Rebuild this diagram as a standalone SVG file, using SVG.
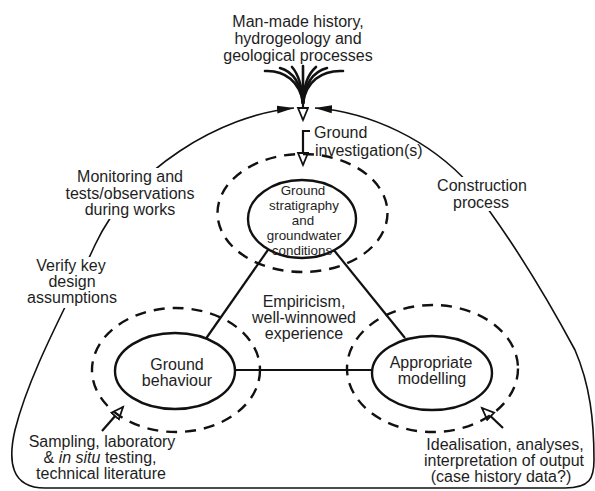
<svg xmlns="http://www.w3.org/2000/svg" width="595" height="491" viewBox="0 0 595 491">
<style>
text{font-family:"Liberation Sans",Arial,sans-serif;font-size:16px;fill:#1e1e1e;text-anchor:middle}
.small{font-size:13.4px}
.ln{fill:none;stroke:#111;stroke-width:2.2}
.outer{fill:none;stroke:#111;stroke-width:1.6}
.dash{fill:none;stroke:#111;stroke-width:2.4;stroke-dasharray:11 8}
.solid{fill:#fff;stroke:#111;stroke-width:2.4}
.fan{fill:none;stroke:#111;stroke-width:2.6;stroke-linecap:round}
.mask{fill:#fff;stroke:none}
</style>
<defs>
<marker id="solidHead" markerUnits="userSpaceOnUse" markerWidth="20" markerHeight="12" refX="17" refY="5" orient="auto-start-reverse">
<path d="M0,1 L17,5 L0,9 Z" fill="#111"/>
</marker>
<marker id="openHead" markerUnits="userSpaceOnUse" markerWidth="16" markerHeight="14" refX="13" refY="6" orient="auto">
<path d="M1,1 L13,6 L1,11 Z" fill="#fff" stroke="#111" stroke-width="1.8" stroke-linejoin="miter"/>
</marker>
</defs>
<rect width="595" height="491" fill="#fff"/>

<g id="connectors">
<path class="outer" marker-start="url(#solidHead)" marker-end="url(#solidHead)" d="M294,108 C220,115 130,170 95,245 C70,300 30,370 15,430 C8,460 10,488 45,488 L565,488 C590,488 594,478 594,460 C594,420 590,385 575,350 C540,285 505,230 470,185 C430,140 370,112 315,108"/>
<rect class="mask" x="64" y="168" width="132" height="51"/>
<rect class="mask" x="25" y="257" width="94" height="51"/>
<rect class="mask" x="434" y="177" width="96" height="34"/>
<g id="fan">
<path class="fan" d="M265,71 C285,70 300,82 303,103"/>
<path class="fan" d="M280,68 C294,72 301,84 303,103"/>
<path class="fan" d="M292,67 C299,75 302,86 303,103"/>
<path class="fan" d="M303,66 L303,103"/>
<path class="fan" d="M316,67 C307,75 304,86 303,103"/>
<path class="fan" d="M327,68 C312,72 305,84 303,103"/>
<path class="fan" d="M343,71 C321,70 306,82 303,103"/>
<path class="ln" stroke-width="3" marker-end="url(#openHead)" d="M303,92 L303,120"/>
</g>
<path class="ln" marker-end="url(#openHead)" d="M310,131 L303,131 L303,165"/>
<line class="ln" x1="270" y1="247" x2="205" y2="340"/>
<line class="ln" x1="333" y1="249" x2="405" y2="338"/>
<line class="ln" x1="230" y1="370" x2="378" y2="370"/>
<path class="ln" marker-end="url(#openHead)" d="M102,431 L123,407"/>
<path class="ln" marker-end="url(#openHead)" d="M503,428 L482,408"/>
</g>

<g id="node-stratigraphy">
<ellipse class="dash" cx="302.5" cy="213" rx="85" ry="59"/>
<ellipse class="solid" cx="302" cy="219" rx="54" ry="39"/>
<text class="small" x="303" y="195">Ground</text>
<text class="small" x="304" y="210">stratigraphy</text>
<text class="small" x="303" y="225">and</text>
<text class="small" x="304" y="240">groundwater</text>
<text class="small" x="302" y="255">conditions</text>
</g>

<g id="node-behaviour">
<ellipse class="dash" cx="176" cy="370" rx="84" ry="62"/>
<ellipse class="solid" cx="175" cy="371" rx="60" ry="38"/>
<text x="177" y="370">Ground</text>
<text x="177" y="386">behaviour</text>
</g>

<g id="node-modelling">
<ellipse class="dash" cx="432.5" cy="368.5" rx="85.5" ry="63.5"/>
<ellipse class="solid" cx="432" cy="373" rx="60" ry="37"/>
<text x="431" y="368">Appropriate</text>
<text x="432" y="384">modelling</text>
</g>

<g id="labels">
<text x="298" y="27">Man-made history,</text>
<text x="298" y="44">hydrogeology and</text>
<text x="298" y="61">geological processes</text>
<text x="314" y="138" style="text-anchor:start">Ground</text>
<text x="315" y="156" style="text-anchor:start">investigation(s)</text>
<text x="130" y="182">Monitoring and</text>
<text x="130" y="199">tests/observations</text>
<text x="130" y="215">during works</text>
<text x="71" y="271">Verify key</text>
<text x="72" y="287">design</text>
<text x="72" y="303">assumptions</text>
<text x="482" y="191">Construction</text>
<text x="481" y="208">process</text>
<text x="304" y="307">Empiricism,</text>
<text x="304" y="323">well-winnowed</text>
<text x="304" y="339">experience</text>
<text x="102" y="447">Sampling, laboratory</text>
<text x="100" y="463">&amp; <tspan font-style="italic">in situ</tspan> testing,</text>
<text x="101" y="479">technical literature</text>
<text x="505" y="450">Idealisation, analyses,</text>
<text x="504" y="466">interpretation of output</text>
<text x="501" y="482">(case history data?)</text>
</g>
</svg>
